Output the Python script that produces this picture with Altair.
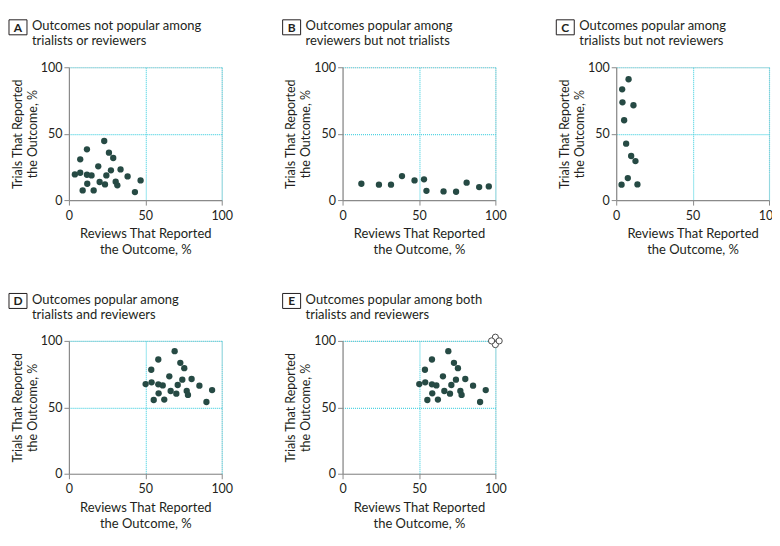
import altair as alt
import pandas as pd

# ---- data ----
a_x = [3.9, 7.4, 7.4, 9.0, 11.8, 11.8, 12.0, 14.8, 16.2, 19.2, 20.1, 23.1, 23.6, 24.5, 26.2, 27.5, 29.0, 30.6, 31.7, 33.8, 38.4, 43.2, 46.9]
a_y = [19.3, 30.7, 20.6, 7.3, 38.2, 19.1, 12.3, 18.6, 7.3, 25.4, 13.6, 44.5, 11.8, 18.6, 35.7, 22.4, 31.7, 13.8, 11.1, 23.1, 17.8, 6.0, 14.8]

b_x = [12.3, 23.8, 31.7, 38.9, 47.1, 53.3, 54.9, 66.1, 74.3, 81.2, 89.4, 95.7]
b_y = [12.3, 11.6, 11.6, 18.1, 14.8, 15.6, 7.0, 6.5, 6.3, 13.1, 9.8, 10.3]

c_x = [8.1, 3.9, 4.1, 11.3, 5.2, 6.5, 9.8, 12.6, 7.6, 3.5, 13.9]
c_y = [91.0, 83.4, 73.6, 71.4, 60.1, 42.5, 33.2, 29.4, 16.6, 11.6, 11.8]

d_x = [50.2, 53.9, 54.1, 55.5, 58.5, 58.5, 58.7, 61.4, 62.4, 65.7, 66.6, 69.2, 70.3, 71.2, 72.9, 74.2, 75.5, 77.1, 77.9, 80.3, 85.4, 90.0, 93.7]
d_y = [67.5, 78.3, 68.8, 55.5, 86.0, 67.3, 60.5, 66.5, 55.8, 73.3, 62.3, 92.3, 60.3, 66.8, 83.5, 70.8, 79.5, 62.3, 59.3, 71.3, 66.3, 54.0, 63.0]

# outcomes at 100% / 100% in panel E (overlapping open circles)
e_open_x = [100.0, 100.0, 100.0, 97.5, 102.5]
e_open_y = [100.0, 102.8, 97.2, 100.0, 100.0]

letters = ["A", "B", "C", "D", "E"]
titles = [
    ["Outcomes not popular among", "trialists or reviewers"],
    ["Outcomes popular among", "reviewers but not trialists"],
    ["Outcomes popular among", "trialists but not reviewers"],
    ["Outcomes popular among", "trialists and reviewers"],
    ["Outcomes popular among both", "trialists and reviewers"],
]
x_title = ["Reviews That Reported", "the Outcome, %"]
y_title = ["Trials That Reported", "the Outcome, %"]
ticks = [0, 50, 100]

FONT = "Lato"
TEXT = "#231f20"
DOT = "#264a44"
GRID = "#4fd3e2"
AXIS = "#8a8a8a"
W, H = 153, 133


def axis(title, label_pad, title_pad, line_h, title_size):
    return alt.Axis(
        values=ticks, title=title, grid=True, gridColor=GRID, gridDash=[1, 1],
        gridWidth=1.2, labelFlush=False, labelOverlap=False,
        gridOpacity=alt.condition("datum.value == 0", alt.value(0), alt.value(1)),
        domainColor=AXIS, tickColor=AXIS, tickSize=5, domainWidth=1.2,
        labelFont=FONT, labelFontSize=12.5, labelColor=TEXT, labelPadding=label_pad,
        titleFont=FONT, titleFontSize=title_size, titleFontWeight="normal",
        titleColor=TEXT, titleLineHeight=line_h, titlePadding=title_pad,
    )


def panel(letter, lines, xs, ys, open_x=None, open_y=None):
    scale = alt.Scale(domain=[0, 100], nice=False, zero=False)
    X = alt.X("x:Q", scale=scale, axis=axis(x_title, 4, 6, 16, 13))
    Y = alt.Y("y:Q", scale=scale, axis=axis(y_title, 2, 1, 15, 12.5))
    df = pd.DataFrame({"x": xs, "y": ys})
    layers = [alt.Chart(df).mark_circle(size=40, color=DOT, opacity=1).encode(x=X, y=Y)]
    if open_x is not None:
        odf = pd.DataFrame({"x": open_x, "y": open_y})
        layers.append(
            alt.Chart(odf).mark_point(shape="circle", size=38, filled=False,
                                      fill="white", fillOpacity=1, stroke="#3a3a3a",
                                      strokeWidth=0.9, opacity=1).encode(x=X, y=Y)
        )
    one = pd.DataFrame({"t": [letter]})
    box = alt.Chart(one).mark_rect(fill="white", stroke=TEXT, strokeWidth=1).encode(
        x=alt.value(-60), x2=alt.value(-42), y=alt.value(-47.5), y2=alt.value(-32.5))
    lt = alt.Chart(one).mark_text(font=FONT, fontSize=12, fontWeight="bold", color=TEXT,
                                  align="center", baseline="middle").encode(
        x=alt.value(-51), y=alt.value(-39.5), text="t:N")
    t1 = alt.Chart(pd.DataFrame({"t": [lines[0]]})).mark_text(
        font=FONT, fontSize=13, color=TEXT, align="left", baseline="alphabetic").encode(
        x=alt.value(-37), y=alt.value(-37), text="t:N")
    t2 = alt.Chart(pd.DataFrame({"t": [lines[1]]})).mark_text(
        font=FONT, fontSize=13, color=TEXT, align="left", baseline="alphabetic").encode(
        x=alt.value(-37), y=alt.value(-22), text="t:N")
    return alt.layer(*layers, box, lt, t1, t2).properties(width=W, height=H)


pA = panel(letters[0], titles[0], a_x, a_y)
pB = panel(letters[1], titles[1], b_x, b_y)
pC = panel(letters[2], titles[2], c_x, c_y)
pD = panel(letters[3], titles[3], d_x, d_y)
pE = panel(letters[4], titles[4], d_x, d_y, e_open_x, e_open_y)

row1 = alt.hconcat(pA, pB, pC, spacing=48)
row2 = alt.hconcat(pD, pE, spacing=48)
chart = alt.vconcat(row1, row2, spacing=35).properties(
    padding={"left": 0, "top": 10, "right": -9, "bottom": 0}
).configure_view(strokeWidth=0).configure(background="white")

chart.save("out.html", embed_options={"renderer": "svg", "actions": False})
